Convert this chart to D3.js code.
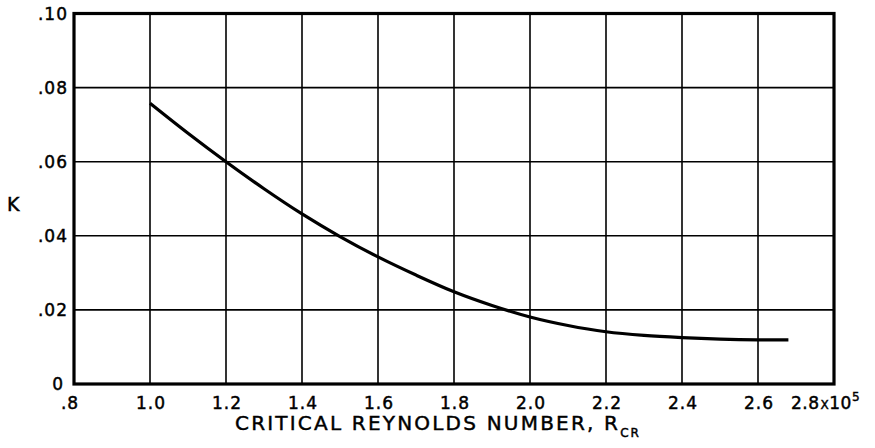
<!DOCTYPE html>
<html>
<head>
<meta charset="utf-8">
<script src="https://cdn.jsdelivr.net/npm/d3@7/dist/d3.min.js"></script>
<style>
  html, body { margin: 0; padding: 0; background: #fff; }
  svg { display: block; }
  text { font-family: "DejaVu Sans", sans-serif; fill: #000; stroke: #000; stroke-width: 0.45px; }
</style>
</head>
<body>
<svg id="chart" width="875" height="448"></svg>
<script>
// Critical Reynolds number (x 10^5) against coefficient K
const reynolds = [1.0, 1.1, 1.2, 1.3, 1.4, 1.5, 1.6, 1.7, 1.8, 1.9, 2.0, 2.1, 2.2, 2.3, 2.4, 2.5, 2.6, 2.68];
const kValues  = [0.0758, 0.0677, 0.0600, 0.0527, 0.0459, 0.0398, 0.0343, 0.0294, 0.0249, 0.0212, 0.0181, 0.0158, 0.0141, 0.0131, 0.0125, 0.0121, 0.0119, 0.0119];

const xTicks = [0.8, 1.0, 1.2, 1.4, 1.6, 1.8, 2.0, 2.2, 2.4, 2.6, 2.8];
const xTickLabels = [".8", "1.0", "1.2", "1.4", "1.6", "1.8", "2.0", "2.2", "2.4", "2.6", "2.8"];
const yTicks = [0, 0.02, 0.04, 0.06, 0.08, 0.10];
const yTickLabels = ["0", ".02", ".04", ".06", ".08", ".10"];

const W = 875, H = 448;
const margin = { top: 13.5, right: 41, bottom: 64, left: 74 };
const svg = d3.select("#chart");

const x = d3.scaleLinear().domain([0.8, 2.8]).range([margin.left, W - margin.right]);
const y = d3.scaleLinear().domain([0, 0.10]).range([H - margin.bottom, margin.top]);

// Grid lines
svg.append("g")
  .selectAll("line")
  .data(xTicks.slice(1, -1))
  .join("line")
  .attr("x1", d => x(d)).attr("x2", d => x(d))
  .attr("y1", y(0)).attr("y2", y(0.10))
  .attr("stroke", "#000").attr("stroke-width", 1.6);

svg.append("g")
  .selectAll("line")
  .data(yTicks.slice(1, -1))
  .join("line")
  .attr("y1", d => y(d)).attr("y2", d => y(d))
  .attr("x1", x(0.8)).attr("x2", x(2.8))
  .attr("stroke", "#000").attr("stroke-width", 1.6);

// Frame
svg.append("rect")
  .attr("x", x(0.8)).attr("y", y(0.10))
  .attr("width", x(2.8) - x(0.8)).attr("height", y(0) - y(0.10))
  .attr("fill", "none").attr("stroke", "#000").attr("stroke-width", 3.2);

// Curve
const line = d3.line()
  .x((d, i) => x(reynolds[i]))
  .y(d => y(d))
  .curve(d3.curveCatmullRom.alpha(0.5));

svg.append("path")
  .datum(kValues)
  .attr("d", line)
  .attr("fill", "none")
  .attr("stroke", "#000")
  .attr("stroke-width", 3.2)
  .attr("stroke-linecap", "butt");

// Y tick labels
svg.append("g")
  .selectAll("text")
  .data(yTicks)
  .join("text")
  .attr("x", (d, i) => i === 0 ? x(0.8) - 10 : x(0.8) - 6)
  .attr("y", d => y(d) + 6)
  .attr("text-anchor", "end")
  .attr("font-size", 17)
  .attr("letter-spacing", 1)
  .text((d, i) => yTickLabels[i]);

// X tick labels
const xLab = svg.append("g");
xTicks.forEach((t, i) => {
  if (i === xTicks.length - 1) {
    const txt = xLab.append("text")
      .attr("x", x(t) - 43)
      .attr("y", y(0) + 25)
      .attr("text-anchor", "start")
      .attr("font-size", 17)
      .attr("letter-spacing", 0.5);
    txt.append("tspan").text(xTickLabels[i]);
    txt.append("tspan").attr("font-size", 12).attr("dx", 1).text("X");
    txt.append("tspan").text("10");
    txt.append("tspan").attr("font-size", 12).attr("dy", -8).text("5");
  } else {
    xLab.append("text")
      .attr("x", x(t) + (i === 0 ? -4 : 1))
      .attr("y", y(0) + 25)
      .attr("text-anchor", "middle")
      .attr("font-size", 17)
      .attr("letter-spacing", 1)
      .text(xTickLabels[i]);
  }
});

// Axis titles
const xTitle = svg.append("text")
  .attr("x", 235)
  .attr("y", 430)
  .attr("font-size", 20)
  .attr("letter-spacing", 2.2);
xTitle.append("tspan").text("CRITICAL REYNOLDS NUMBER, R");
xTitle.append("tspan").attr("font-size", 12).attr("dy", 7).attr("letter-spacing", 2).text("CR");

svg.append("text")
  .attr("x", 7)
  .attr("y", 211)
  .attr("font-size", 19)
  .text("K");
</script>
</body>
</html>
